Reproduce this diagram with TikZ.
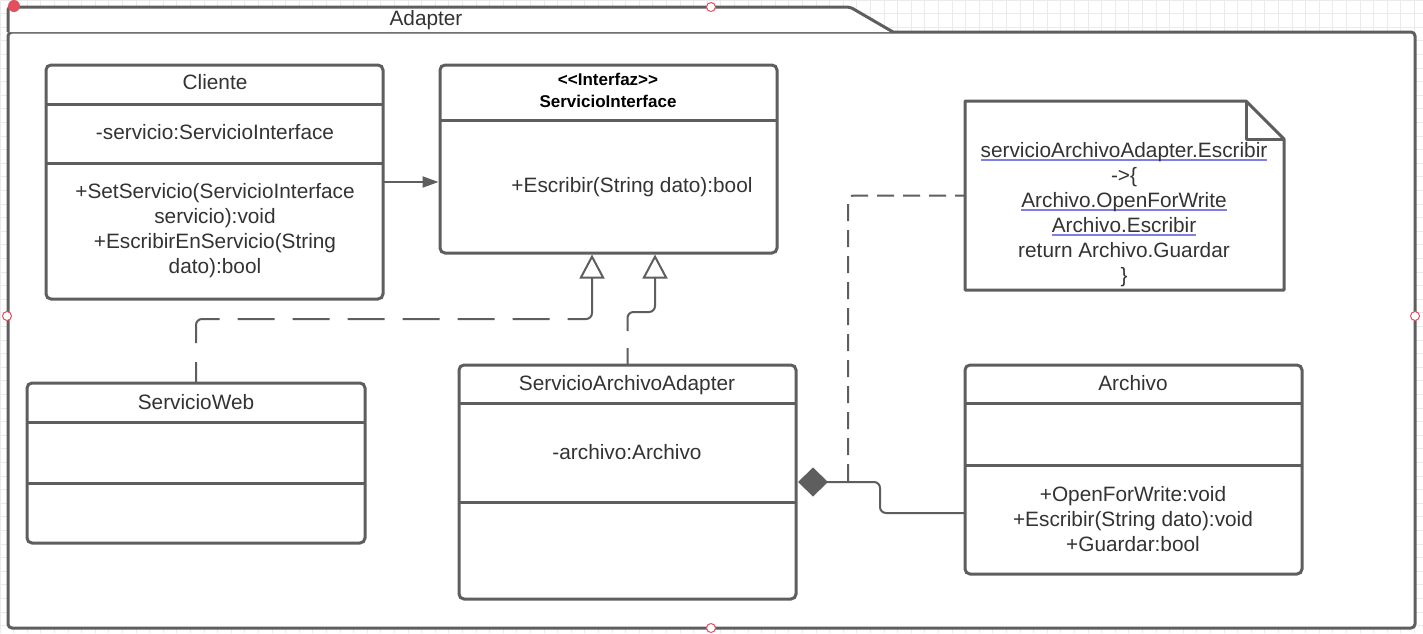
\documentclass[tikz,border=0pt]{standalone}
\usepackage{fontspec}
\setmainfont{Liberation Sans}
\usepackage{xcolor}
\usetikzlibrary{arrows.meta,calc,positioning}

\definecolor{LineGray}{HTML}{5E5E5E}
\definecolor{TextGray}{HTML}{333333}
\definecolor{LinkBlue}{HTML}{7F7FE0}
\definecolor{HandleRed}{HTML}{E2505F}
\definecolor{GridGray}{HTML}{EBEBEB}

\newsavebox\LinkBox
\newcommand\NoteLink[1]{% underlined name in the note
  \sbox\LinkBox{#1}%
  \rlap{\textcolor{LinkBlue}{\rule[-2.8pt]{\wd\LinkBox}{1.3pt}}}\usebox\LinkBox}

\begin{document}
\begin{tikzpicture}[
        % Environment Config
        x=1pt, y=-1pt,
        font=\fontsize{20.8}{25}\selectfont,
        text=TextGray,
        PkgLine/.style={% Style for the package frame
          draw=LineGray,
          fill=white,
          line width=3pt,
          line join=round
        },
        ClassBox/.style={% Style for the class frames
          draw=LineGray,
          fill=white,
          line width=3pt,
          rounded corners=5pt,
          anchor=north west,
          inner sep=0pt,
          outer sep=0pt
        },
        ClassLine/.style={% Compartment separators
          draw=LineGray,
          line width=3pt
        },
        ClassText/.style={% Multi line text
          inner sep=0pt,
          align=center
        },
        SingleText/.style={% One line text
          inner sep=0pt,
          text height=15pt,
          text depth=0pt
        },
        HeadText/.style={% Interface header
          inner sep=0pt,
          align=center,
          text=black,
          font=\fontsize{17}{22}\selectfont\bfseries
        },
        AssocArrow/.style={% Plain association
          draw=LineGray,
          line width=2pt,
          -{Triangle[length=16pt,width=11pt]},
          shorten >=1.5pt
        },
        RealizeArrow/.style={% Dashed realization
          draw=LineGray,
          line width=2pt,
          rounded corners=6pt,
          -{Triangle[open,length=24pt,width=25pt,fill=white]},
          shorten >=1.5pt
        },
        CompLine/.style={% Composition with filled diamond
          draw=LineGray,
          line width=2pt,
          rounded corners=6pt,
          {Diamond[length=30pt,width=29pt,fill=LineGray]}-,
          shorten <=2pt
        },
        NoteLine/.style={% Dashed note anchor
          draw=LineGray,
          line width=2pt,
          rounded corners=6pt,
          dash pattern=on 17pt off 9pt,
          dash phase=7pt
        },
        Handle/.style={% Selection handles
          draw=HandleRed,
          fill=white,
          line width=1pt
        }
      ]

      \def\MyClass(#1)#2#3#4{% Custom class frame
        \node[ClassBox, minimum width=#3, minimum height=#4] (#2) at (#1) {};
      }
      \def\MyDivider#1#2{% Line between compartments
        \draw[ClassLine] ($(#1.north west)+(0,#2)$) -- ($(#1.north east)+(0,#2)$);
      }

      \useasboundingbox (0,0) rectangle (1423,633);

      % Background grid
      \draw[GridGray, line width=0.8pt] (0,0) grid[step=13.6pt] (1423,633);

      % Package frame
      \node[ClassBox, draw=LineGray, rounded corners=4pt,
        minimum width=1407, minimum height=596] (pkg) at (8,32) {};
      \draw[PkgLine, rounded corners=3pt]
      (pkg.north west)
          -- ++(0,-25)
          -- ++(842,0)
          -- ++(43,25);
      \node[SingleText] (pkg-title) at (426,18) {Adapter};

      % Put the classes in position
      \MyClass(46,65){cli}{337}{234}
      \MyDivider{cli}{39}
      \MyDivider{cli}{98}

      \MyClass(440,65){srvint}{337}{188}
      \MyDivider{srvint}{55}

      \MyClass(27,383){web}{338}{160}
      \MyDivider{web}{39}
      \MyDivider{web}{100}

      \MyClass(459,365){adapter}{337}{234}
      \MyDivider{adapter}{38}
      \MyDivider{adapter}{137}

      \MyClass(965,365){archivo}{337}{209}
      \MyDivider{archivo}{38}
      \MyDivider{archivo}{100}

      % Note with folded corner
      \node[ClassBox, draw=none, fill=none, minimum width=319, minimum height=189] (note) at (965,101) {};
      \draw[PkgLine]
      (note.north west)
          -- ($(note.north east)+(-38,0)$) coordinate (fold)
          -- ($(note.north east)+(0,38)$)
          -- (note.south east)
          -- (note.south west)
          -- cycle;
      \draw[ClassLine, line join=round] (fold) |- ($(note.north east)+(0,38)$);

      % Texts
      \node[SingleText] (cli-title) at (215,82) {Cliente};
      \node[SingleText] (cli-attr) at (215,132) {-servicio:ServicioInterface};
      \node[ClassText] (cli-ops) at (215,231)
          {+SetServicio(ServicioInterface\\servicio):void\\+EscribirEnServicio(String\\dato):bool};

      \node[HeadText] (srvint-title) at (608,90)
          {<\kern0pt<Interfaz>\kern0pt>\\ServicioInterface};
      \node[SingleText] (srvint-ops) at (632,185) {+Escribir(String dato):bool};

      \node[SingleText] (web-title) at (196,402) {ServicioWeb};

      \node[SingleText] (adapter-title) at (627,383) {ServicioArchivoAdapter};
      \node[SingleText] (adapter-attr) at (627,452) {-archivo:Archivo};

      \node[SingleText] (archivo-title) at (1133,383) {Archivo};
      \node[ClassText] (archivo-ops) at (1133,519)
          {+OpenForWrite:void\\+Escribir(String dato):void\\+Guardar:bool};

      \node[ClassText] (note-text) at (1124,215)
          {\NoteLink{servicioArchivoAdapter.Escribir}\\->\{\\\NoteLink{Archivo.OpenForWrite}\\
           \NoteLink{Archivo.Escribir}\\return Archivo.Guardar\\\}};

      % Draw the connectors
      %===Association===
      \draw[AssocArrow] (cli.east) -- (cli.east -| srvint.west);

      %===Realizations===
      \path (srvint.south) ++(-16.5,0) coordinate (web-tip) ++(63,0) coordinate (adapter-tip);
      \draw[RealizeArrow,
          dash pattern=on 21pt off 19pt on 45pt off 18pt
                       on 37pt off 18pt on 37pt off 18pt on 37pt off 18pt
                       on 37pt off 18pt on 37pt off 18pt on 37pt off 18pt on 300pt]
      (web.north) -- ++(0,-64) -| (web-tip);
      \draw[RealizeArrow, dash pattern=on 17pt off 17pt on 300pt]
      (adapter.north) -- ++(0,-53) -| (adapter-tip);

      %===Composition===
      \draw[CompLine]
      (adapter.east)
          -- ++(52,0) coordinate (note-foot)
          -- ++(32,0)
          |- ($(archivo.west)+(0,43.5)$);

      %===Note anchor===
      \draw[NoteLine] (note.west) -| (note-foot);

      % Selection handles
      \fill[HandleRed] (14,6) circle (6pt);
      \draw[Handle] (711,7) circle (4.5pt);
      \draw[Handle] (7,316) circle (4.5pt);
      \draw[Handle] (1415,316) circle (4.5pt);
      \draw[Handle] (711,628) circle (4.5pt);

\end{tikzpicture}
\end{document}
